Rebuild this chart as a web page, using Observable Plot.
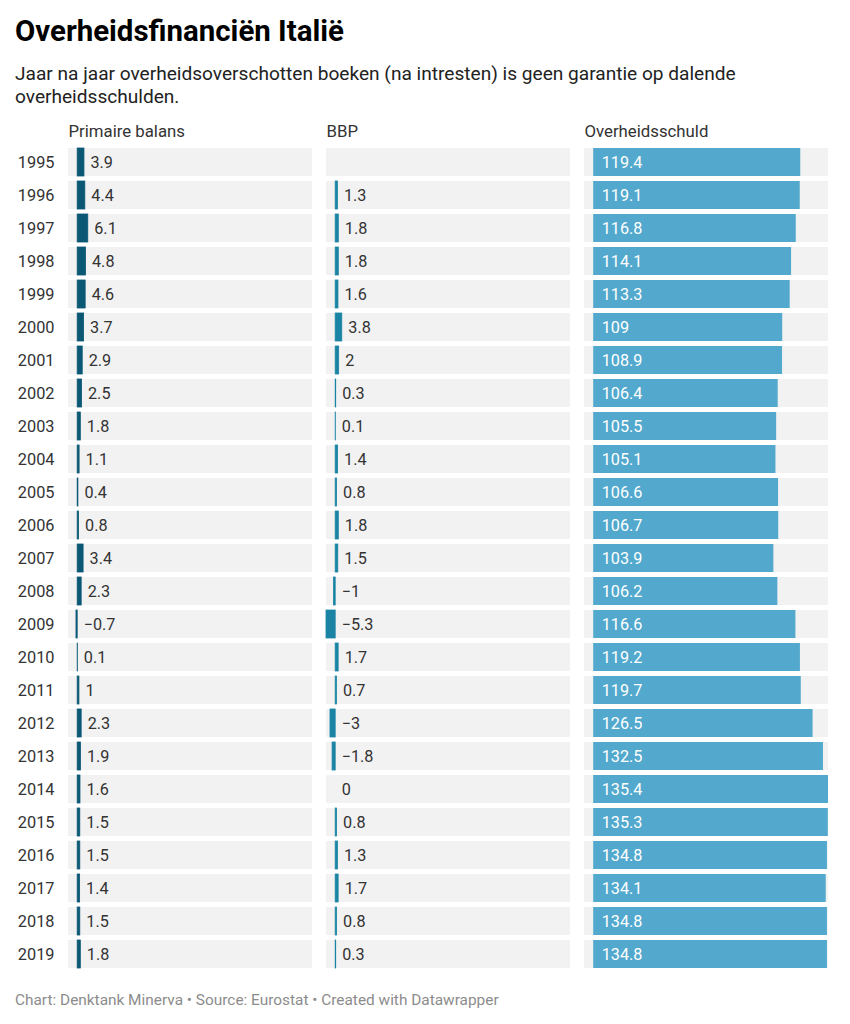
<!DOCTYPE html>
<html>
<head>
<meta charset="utf-8">
<script src="https://cdn.jsdelivr.net/npm/d3@7"></script>
<script src="https://cdn.jsdelivr.net/npm/@observablehq/plot@0.6"></script>
<style>
  body { margin: 0; background: #fff; font-family: Roboto, "Noto Sans", sans-serif; color: #333; }
  #wrap { position: relative; width: 850px; height: 1024px; }
  h1 { position: absolute; top: 12px; left: 15px; margin: 0; font-size: 29.4px; font-weight: 700; color: #000; line-height: 38px; white-space: nowrap; }
  .sub { position: absolute; top: 62px; left: 15px; margin: 0; font-size: 19.8px; line-height: 23px; color: #222; white-space: nowrap; }
  #chart { position: absolute; top: 112px; left: 0; }
  .foot { position: absolute; top: 990px; left: 15px; font-size: 15.4px; line-height: 20px; color: #8c8c8c; white-space: nowrap; }
  svg { display: block; }
</style>
</head>
<body>
<div id="wrap">
  <h1 id="title">Overheidsfinanciën Italië</h1>
  <div class="sub" id="sub">Jaar na jaar overheidsoverschotten boeken (na intresten) is geen garantie op dalende<br>overheidsschulden.</div>
  <div id="chart"></div>
  <div class="foot" id="foot">Chart: Denktank Minerva • Source: Eurostat • Created with Datawrapper</div>
</div>
<script>
const years = ["1995","1996","1997","1998","1999","2000","2001","2002","2003","2004","2005","2006","2007","2008","2009","2010","2011","2012","2013","2014","2015","2016","2017","2018","2019"];
const columns = ["Primaire balans", "BBP", "Overheidsschuld"];
const primaireBalans = [3.9,4.4,6.1,4.8,4.6,3.7,2.9,2.5,1.8,1.1,0.4,0.8,3.4,2.3,-0.7,0.1,1,2.3,1.9,1.6,1.5,1.5,1.4,1.5,1.8];
const bbp = [null,1.3,1.8,1.8,1.6,3.8,2,0.3,0.1,1.4,0.8,1.8,1.5,-1,-5.3,1.7,0.7,-3,-1.8,0,0.8,1.3,1.7,0.8,0.3];
const overheidsschuld = [119.4,119.1,116.8,114.1,113.3,109,108.9,106.4,105.5,105.1,106.6,106.7,103.9,106.2,116.6,119.2,119.7,126.5,132.5,135.4,135.3,134.8,134.1,134.8,134.8];
const colors = ["#0b5875", "#1b84a4", "#52a9cd"];

// fit font sizes to the widths measured on the reference
const ctx = document.createElement("canvas").getContext("2d");
function fit(text, weight, target) {
  ctx.font = `${weight} 100px Roboto`;
  return 100 * target / ctx.measureText(text).width;
}
const titleSize = fit("Overheidsfinanciën Italië", 700, 329);
const subSize = fit("Jaar na jaar overheidsoverschotten boeken (na intresten) is geen garantie op dalende", 400, 721);
const footSize = fit("Chart: Denktank Minerva • Source: Eurostat • Created with Datawrapper", 400, 484);
const headSize = fit("Primaire balans", 400, 116.6);
const yearSize = fit("1995", 400, 36.7);
const labelSize = fit("134.8", 400, 40.7);
document.getElementById("title").style.fontSize = titleSize + "px";
document.getElementById("sub").style.fontSize = subSize + "px";
document.getElementById("foot").style.fontSize = footSize + "px";

const series = [primaireBalans, bbp, overheidsschuld];
const rows = columns.flatMap((c, i) => years.map((y, j) => ({col: c, year: y, value: series[i][j]})));
const vals = rows.filter(d => d.value != null);
const allValues = vals.map(d => d.value);
const xMin = d3.min(allValues), xMax = d3.max(allValues);
const fmt = v => String(v).replace("-", "\u2212");
const small = vals.filter(d => d.col !== "Overheidsschuld");
const debt = vals.filter(d => d.col === "Overheidsschuld");

const chart = Plot.plot({
  width: 850,
  height: 875,
  marginLeft: 67,
  marginRight: 20,
  marginTop: 36,
  marginBottom: 0,
  style: {fontFamily: "Roboto, sans-serif", fontSize: yearSize + "px", color: "#333", background: "transparent"},
  x: {domain: [xMin, xMax], axis: null},
  y: {domain: years, paddingInner: 0.15, paddingOuter: 0, align: 0, label: null, tickSize: 0, tickPadding: 14},
  fx: {domain: columns, padding: 0.054, axis: null},
  color: {domain: columns, range: colors},
  marks: [
    Plot.barX(rows, {fx: "col", y: "year", x1: xMin, x2: xMax, fill: "#f2f2f2"}),
    Plot.barX(small.filter(d => d.value !== 0), {fx: "col", y: "year", x1: 0, x2: "value", fill: "col", stroke: "col", strokeWidth: 0.8}),
    Plot.barX(debt, {fx: "col", y: "year", x1: 0, x2: "value", fill: "col"}),
    Plot.text(small, {fx: "col", y: "year", x: d => Math.max(0, d.value), text: d => fmt(d.value), textAnchor: "start", dx: 6, fill: "#333", fontSize: labelSize}),
    Plot.text(debt, {fx: "col", y: "year", x: 0, text: d => fmt(d.value), textAnchor: "start", dx: 8, fill: "#fff", fontSize: labelSize}),
    Plot.text(columns, {fx: d => d, text: d => d, frameAnchor: "top-left", textAnchor: "start", lineAnchor: "middle", dy: -17, fill: "#333", fontSize: headSize})
  ]
});
document.getElementById("chart").appendChild(chart);
</script>
</body>
</html>
